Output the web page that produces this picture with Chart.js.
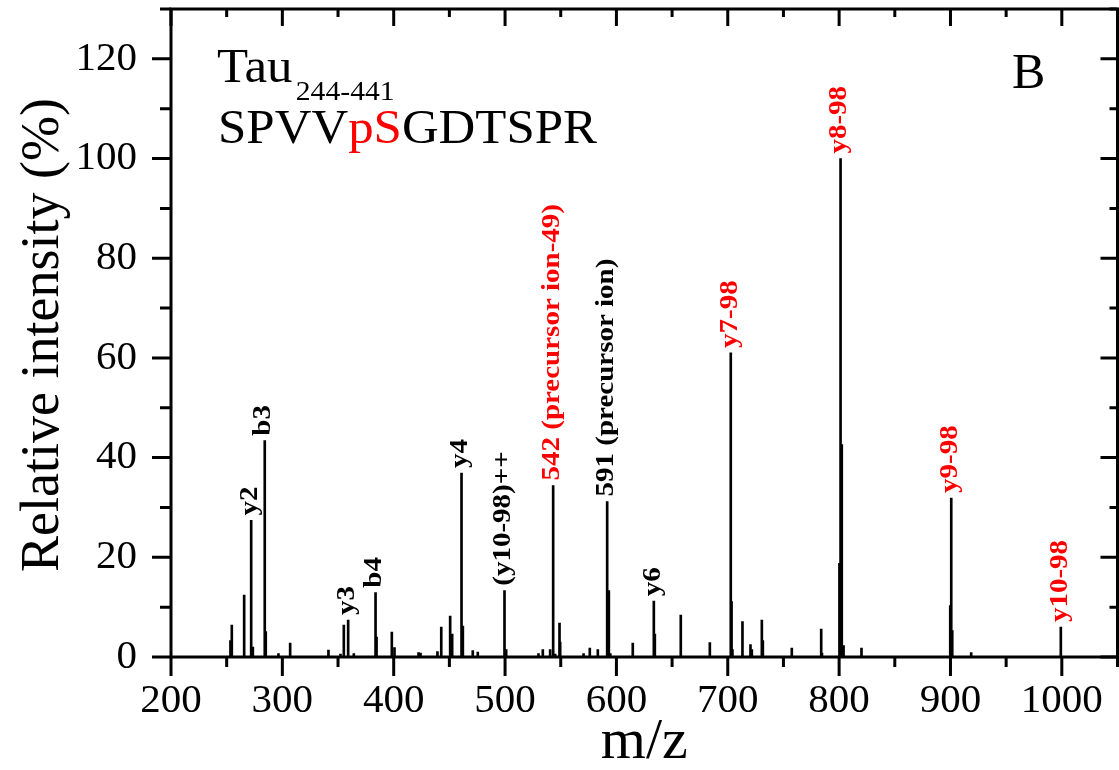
<!DOCTYPE html>
<html>
<head>
<meta charset="utf-8">
<script src="https://cdn.jsdelivr.net/npm/chart.js@4.4.1/dist/chart.umd.min.js"></script>
<style>
  html, body { margin: 0; padding: 0; background: #fff; }
  #wrap { width: 1119px; height: 770px; }
</style>
</head>
<body>
<div id="wrap"><canvas id="chart" width="1119" height="770"></canvas></div>
<script>
// =======================
// Spectrum data (m/z, relative intensity %)
// =======================
const peakMz = [
  253.4, 254.6, 265.7, 272.0, 273.5, 284.2, 285.1, 296.5, 307.0, 341.4,
  352.2, 355.2, 359.1, 364.2, 383.7, 384.6, 398.3, 400.7, 422.3, 424.1,
  439.3, 442.7, 450.7, 452.5, 460.9, 462.1, 471.0, 475.5, 499.5, 501.0,
  530.0, 533.9, 540.5, 543.2, 545.0, 548.9, 549.5, 570.5, 576.1, 583.3,
  591.7, 593.2, 594.5, 614.7, 633.6, 634.5, 657.8, 683.9, 702.7, 703.4,
  704.2, 713.2, 720.4, 721.6, 730.6, 731.5, 757.5, 783.9, 784.6, 800.3,
  801.3, 802.4, 804.0, 820.1, 899.8, 900.7, 901.6, 918.6, 999.1
];
const peakIntensity = [
  3.3, 6.4, 12.4, 27.4, 2.0, 43.4, 5.1, 0.7, 2.8, 1.4,
  0.6, 6.4, 7.4, 0.7, 12.9, 4.0, 5.0, 1.9, 0.9, 0.8,
  1.1, 6.0, 8.2, 4.6, 36.9, 6.2, 1.3, 1.0, 13.3, 1.5,
  0.7, 1.5, 1.5, 34.4, 0.6, 6.8, 3.0, 0.7, 1.8, 1.5,
  31.2, 13.3, 0.7, 2.8, 11.2, 4.6, 8.4, 2.9, 61.0, 11.1,
  1.5, 7.1, 2.5, 1.5, 7.4, 3.3, 1.8, 5.6, 0.8, 18.8,
  100.0, 42.6, 2.3, 1.8, 10.3, 31.9, 5.3, 0.9, 6.0
];

// annotated fragment ions (black) and phosphate-loss ions (red)
const fragmentMz = [272.0, 284.2, 359.1, 383.7, 460.9, 499.5, 591.7, 633.6];
const fragmentLabels = ["y2", "b3", "y3", "b4", "y4", "(y10-98)++", "591 (precursor ion)", "y6"];
const lossMz = [543.2, 702.7, 801.3, 900.7, 999.1];
const lossLabels = ["542 (precursor ion-49)", "y7-98", "y8-98", "y9-98", "y10-98"];

const xTickStep = 100;
const yTickStep = 20;

// =======================
// Helpers
// =======================
function intensityAt(mz) {
  let best = 0, bestD = Infinity;
  peakMz.forEach((m, i) => {
    const d = Math.abs(m - mz);
    if (d < bestD) { bestD = d; best = i; }
  });
  return peakIntensity[best];
}

const SERIF = "'Liberation Serif', 'Times New Roman', serif";

// frame with outward ticks on bottom/left, inward on top/right
const framePlugin = {
  id: "frame",
  afterDraw(chart) {
    const { ctx, chartArea: a, scales: { x, y } } = chart;
    ctx.save();
    ctx.strokeStyle = "#000";
    ctx.lineWidth = 3;
    ctx.lineCap = "butt";
    ctx.strokeRect(a.left, a.top, a.right - a.left, a.bottom - a.top);
    ctx.beginPath();
    for (let v = 200; v <= 1050; v += 50) {
      const px = x.getPixelForValue(v);
      const major = v % 100 === 0;
      ctx.moveTo(px, a.bottom);
      ctx.lineTo(px, a.bottom + (major ? 19 : 10));
      ctx.moveTo(px, a.top);
      ctx.lineTo(px, a.top + (major ? 17 : 8));
    }
    for (let v = 0; v <= 130; v += 10) {
      const py = y.getPixelForValue(v);
      const major = v % 20 === 0;
      ctx.moveTo(a.left, py);
      ctx.lineTo(a.left - (major ? 19 : 11), py);
      ctx.moveTo(a.right, py);
      ctx.lineTo(a.right - (major ? 17 : 8), py);
    }
    ctx.stroke();
    ctx.restore();
  }
};

// peak annotations + text blocks
const textPlugin = {
  id: "texts",
  afterDatasetsDraw(chart) {
    const { ctx, scales: { x, y } } = chart;
    ctx.save();
    ctx.font = "bold 29px " + SERIF;
    ctx.textAlign = "left";
    ctx.textBaseline = "middle";
    const drawLabel = (mz, text, color) => {
      const px = x.getPixelForValue(mz) - 1;
      const py = y.getPixelForValue(intensityAt(mz)) - 5;
      ctx.save();
      ctx.translate(px, py);
      ctx.rotate(-Math.PI / 2);
      ctx.scale(1, 0.9);
      ctx.fillStyle = color;
      ctx.fillText(text, 0, 0);
      ctx.restore();
    };
    fragmentMz.forEach((m, i) => drawLabel(m, fragmentLabels[i], "#000"));
    lossMz.forEach((m, i) => drawLabel(m, lossLabels[i], "#ff0000"));

    // y axis title
    ctx.save();
    ctx.translate(58, (chart.chartArea.top + chart.chartArea.bottom) / 2 + 2);
    ctx.rotate(-Math.PI / 2);
    ctx.font = "54px " + SERIF;
    ctx.textAlign = "center";
    ctx.textBaseline = "alphabetic";
    ctx.fillStyle = "#000";
    ctx.fillText("Relative intensity (%)", 0, 0);
    ctx.restore();

    // peptide annotation
    ctx.textBaseline = "alphabetic";
    ctx.textAlign = "left";
    ctx.fillStyle = "#000";
    ctx.save();
    ctx.translate(217, 0);
    ctx.scale(1.06, 1);
    ctx.font = "48px " + SERIF;
    ctx.fillText("Tau", 0, 82);
    const tauW = ctx.measureText("Tau").width;
    ctx.font = "28px " + SERIF;
    ctx.fillText("244-441", tauW + 3, 100);

    ctx.font = "48px " + SERIF;
    let cx = 1;
    [["SPVV", "#000"], ["pS", "#ff0000"], ["GDTSPR", "#000"]].forEach(([t, c]) => {
      ctx.fillStyle = c;
      ctx.fillText(t, cx, 143);
      cx += ctx.measureText(t).width;
    });
    ctx.restore();

    ctx.fillStyle = "#000";
    ctx.font = "50px " + SERIF;
    ctx.fillText("B", 1012, 88);
    ctx.restore();
  }
};

// =======================
// Chart
// =======================
const ctx = document.getElementById("chart").getContext("2d");
new Chart(ctx, {
  type: "bar",
  data: {
    datasets: [{
      data: peakMz.map((m, i) => ({ x: m, y: peakIntensity[i] })),
      backgroundColor: "#000",
      borderWidth: 0,
      barThickness: 2
    }]
  },
  options: {
    responsive: false,
    animation: false,
    layout: { padding: { top: 9, right: 1.5, left: 0, bottom: 0 } },
    plugins: { legend: { display: false }, tooltip: { enabled: false } },
    scales: {
      x: {
        type: "linear",
        min: 200,
        max: 1050,
        offset: false,
        grid: { display: false, drawTicks: false, offset: false },
        border: { display: false },
        ticks: {
          stepSize: xTickStep,
          includeBounds: false,
          maxRotation: 0,
          autoSkip: false,
          padding: 20,
          color: "#000",
          font: { family: SERIF, size: 41 },
          callback: v => String(v)
        },
        title: {
          display: true,
          text: "m/z",
          color: "#000",
          font: { family: SERIF, size: 58, lineHeight: 1 },
          padding: { top: 0, bottom: -2 }
        },
        afterFit(s) {
          s.height = 113;
          s.paddingLeft = 0;
          s.paddingRight = 0;
        }
      },
      y: {
        min: 0,
        max: 130,
        grid: { display: false, drawTicks: false },
        border: { display: false },
        ticks: {
          stepSize: yTickStep,
          includeBounds: false,
          padding: 34,
          color: "#000",
          font: { family: SERIF, size: 41 }
        },
        afterFit(s) {
          s.width = 171;
          s.paddingTop = 0;
          s.paddingBottom = 0;
        }
      }
    }
  },
  plugins: [framePlugin, textPlugin]
});
</script>
</body>
</html>
